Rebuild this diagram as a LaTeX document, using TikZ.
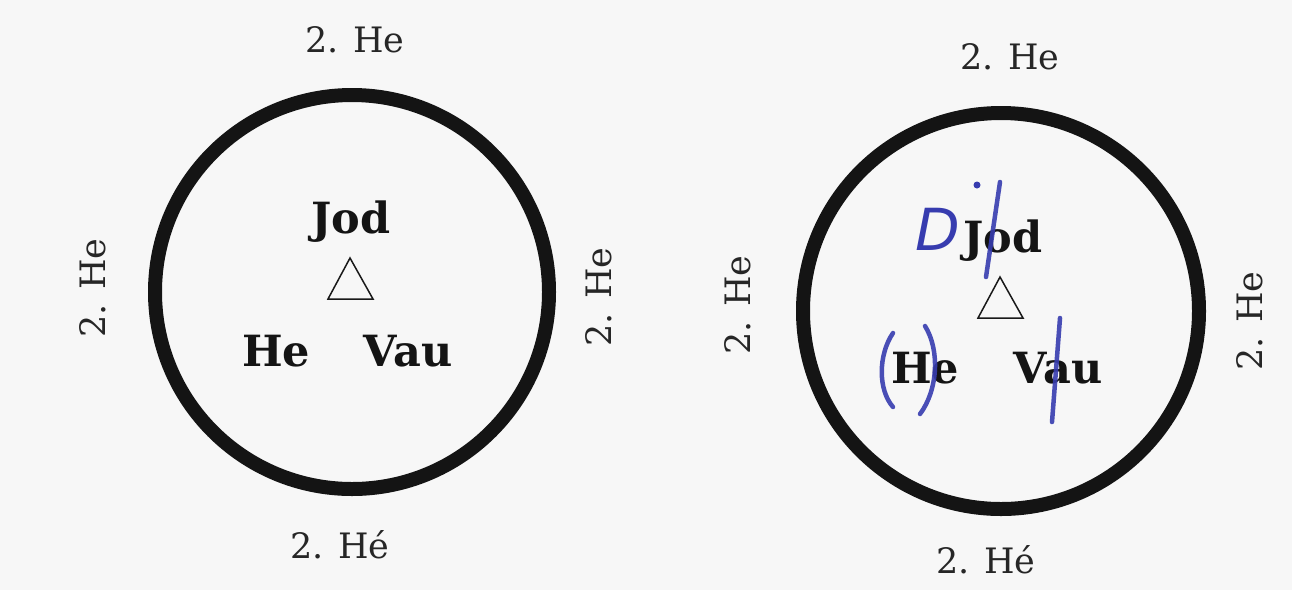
\documentclass[tikz,border=0pt]{standalone}
\usepackage{fontspec}
\setmainfont{DejaVu Serif}
\newfontfamily\handfont{DejaVu Sans}
\begin{document}
\begin{tikzpicture}[x=1pt,y=-1pt,
  ring/.style={draw=black!92,line width=14pt},
  lbl/.style={inner sep=0pt,font=\fontsize{35}{35}\selectfont,text=black!85},
  big/.style={inner sep=0pt,anchor=base,font=\fontsize{43}{43}\selectfont\bfseries,text=black!92},
  tri/.style={draw=black!90,line width=1.5pt,line join=miter},
  pen/.style={draw=penblue,line width=4.5pt,line cap=round,opacity=0.9}]
\definecolor{penblue}{RGB}{55,60,175}
\definecolor{paper}{RGB}{247,247,247}
\fill[paper] (0,0) rectangle (1292,590);
\useasboundingbox (0,0) rectangle (1292,590);
% ---------- left diagram ----------
\node[circle,ring,minimum size=394pt,inner sep=0pt] (c1) at (352,292) {};
\node[lbl] (t1) at (355,40) {2. He};
\node[lbl] (b1) at (340,545) {2. H\'e};
\node[lbl,rotate=90] (l1) at (93,288) {2. He};
\node[lbl,rotate=90] (r1) at (599,297) {2. He};
\node[big] (jod1) at (351,233) {Jod};
\node[big] (he1) at (276,366) {He};
\node[big] (vau1) at (408,366) {Vau};
\coordinate (a1) at (350,258);
\coordinate (bl1) at (328,299);
\coordinate (br1) at (373,299);
\draw[tri] (a1) -- (bl1) -- (br1) -- cycle;
% ---------- right diagram ----------
\node[circle,ring,minimum size=396pt,inner sep=0pt] (c2) at (1001,311) {};
\node[lbl] (t2) at (1010,57) {2. He};
\node[lbl] (b2) at (986,560) {2. H\'e};
\node[lbl,rotate=90] (l2) at (738,305) {2. He};
\node[lbl,rotate=90] (r2) at (1250,321) {2. He};
\node[big] (jod2) at (1003,252) {Jod};
\node[big] (he2) at (925,383) {He};
\node[big] (vau2) at (1058,383) {Vau};
\coordinate (a2) at (1000,277);
\coordinate (bl2) at (978,318);
\coordinate (br2) at (1023,318);
\draw[tri] (a2) -- (bl2) -- (br2) -- cycle;
% blue pen marks
\node[inner sep=0pt,text=penblue,font=\handfont\itshape\fontsize{58}{58}\selectfont] (d2) at (938,229) {D};
\fill[penblue] (977,185) circle (3.5pt);
\coordinate (s1a) at (1000,182);
\coordinate (s1b) at (986,277);
\draw[pen] (s1a) -- (s1b);
\coordinate (p1a) at (893,333);
\coordinate (p1b) at (893,407);
\draw[pen] (p1a) .. controls (878,355) and (878,390) .. (p1b);
\coordinate (p2a) at (925,326);
\coordinate (p2b) at (920,414);
\draw[pen] (p2a) .. controls (940,350) and (938,390) .. (p2b);
\coordinate (s2a) at (1060,318);
\coordinate (s2b) at (1052,422);
\draw[pen] (s2a) -- (s2b);
\end{tikzpicture}
\end{document}
